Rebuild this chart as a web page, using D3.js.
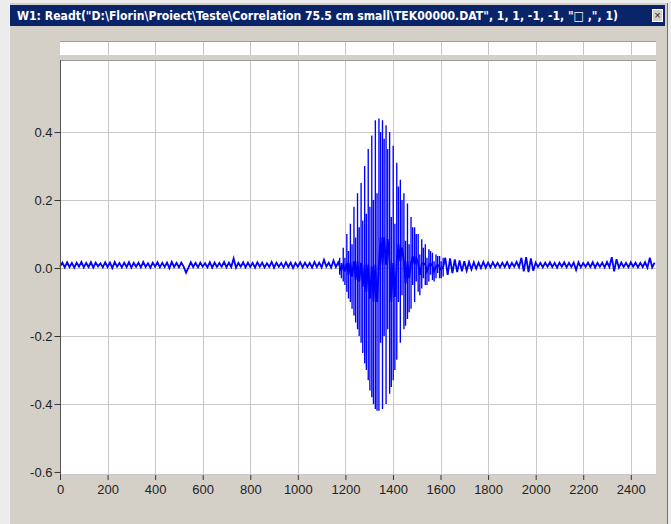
<!DOCTYPE html>
<html>
<head>
<meta charset="utf-8">
<script src="https://cdn.jsdelivr.net/npm/d3@7"></script>
<style>
  body { margin: 0; background: #ececec; }
  svg { display: block; }
  text { font-family: "Liberation Sans", Arial, sans-serif; }
</style>
</head>
<body>
<div id="chart"></div>
<script>
var titleText = "W1: Readt(\"D:\\Florin\\Proiect\\Teste\\Correlation 75.5 cm small\\TEK00000.DAT\", 1, 1, -1, -1, \"\u25A1 ,\", 1)";

var xTickValues = [0, 200, 400, 600, 800, 1000, 1200, 1400, 1600, 1800, 2000, 2200, 2400];
var yTickValues = [-0.6, -0.4, -0.2, 0.0, 0.2, 0.4];

// baseline noise before the burst, one value every 10 samples from sample 0
var preStart = 0, preStep = 10;
var preNoise = [
  0.004,0.016,0.002,0.017,0.003,0.015,0.001,0.016,0.004,0.018,
  0.002,0.015,0.003,0.017,0.001,0.016,0.005,0.014,0.002,0.017,
  0.003,0.016,0.000,0.018,0.004,0.015,0.002,0.016,0.003,0.017,
  0.001,0.015,0.004,0.016,0.002,0.018,0.003,0.014,0.001,0.016,
  0.004,0.017,0.002,0.015,0.003,0.016,0.000,0.018,0.003,0.015,
  0.002,0.016,0.004,-0.014,0.001,0.017,0.003,0.015,0.002,0.016,
  0.004,0.014,0.002,0.017,0.001,0.016,0.003,0.015,0.004,0.018,
  0.002,0.016,0.003,0.028,0.001,0.015,0.004,0.017,0.002,0.016,
  0.003,0.015,0.001,0.017,0.004,0.016,0.002,0.014,0.003,0.018,
  0.001,0.016,0.004,0.015,0.002,0.017,0.003,0.016,0.000,0.015,
  0.004,0.017,0.002,0.016,0.003,0.015,0.001,0.018,0.003,0.016,
  0.002,0.024,0.004,0.016,0.001,0.022,0.003,0.017
];

// baseline noise after the burst, every 10 samples from sample 1620
var postStart = 1620, postStep = 10;
var postNoise = [
  0.030,-0.020,0.028,-0.015,0.025,-0.012,0.022,-0.010,0.020,-0.008,
  0.018,-0.004,0.017,-0.002,0.016,0.000,0.018,0.001,0.016,0.002,
  0.017,0.003,0.015,0.002,0.016,0.003,0.017,0.001,0.015,0.004,
  0.018,0.002,0.030,-0.010,0.032,-0.012,0.028,-0.008,0.016,0.003,
  0.015,0.002,0.016,0.004,0.017,0.003,0.015,0.001,0.016,0.004,
  0.017,0.002,0.015,0.003,0.016,-0.006,0.017,0.002,0.015,0.004,
  0.016,0.003,0.017,0.001,0.015,0.004,0.016,0.002,0.018,0.003,
  0.032,-0.010,0.026,0.001,0.016,0.003,0.015,0.002,0.017,0.004,
  0.016,0.002,0.015,0.003,0.017,0.001,0.030,0.002,0.016
];

// burst: min/max strokes (sample, high, low)
var burstSamples = [
  1176,1183,1191,1198,1206,1213,1221,1228,1236,1243,
  1251,1258,1266,1273,1281,1288,1296,1303,1311,1318,
  1326,1333,1341,1348,1356,1363,1371,1378,1386,1393,
  1401,1408,1416,1423,1431,1438,1446,1453,1461,1468,
  1476,1483,1491,1498,1506,1513,1521,1528,1536,1543,
  1551,1558,1566,1573,1581,1588,1596,1603,1611
];
var burstHigh = [
  0.030,0.015,0.060,0.030,0.100,0.050,0.130,0.070,0.180,0.090,
  0.220,0.120,0.250,0.140,0.300,0.160,0.350,0.180,0.390,0.200,
  0.435,0.220,0.440,0.400,0.435,0.380,0.420,0.350,0.400,0.150,
  0.360,0.130,0.310,0.240,0.260,0.200,0.220,0.080,0.190,0.070,
  0.150,0.120,0.120,0.100,0.100,0.040,0.085,0.060,0.070,0.030,
  0.055,0.050,0.045,0.020,0.040,0.035,0.035,0.020,0.030
];
var burstLow = [
  -0.020,-0.030,-0.040,-0.050,-0.070,-0.090,-0.100,-0.120,-0.140,-0.160,
  -0.180,-0.200,-0.220,-0.250,-0.280,-0.300,-0.330,-0.360,-0.380,-0.400,
  -0.415,-0.420,-0.420,-0.220,-0.415,-0.200,-0.400,-0.180,-0.370,-0.350,
  -0.330,-0.300,-0.270,-0.100,-0.220,-0.080,-0.180,-0.170,-0.150,-0.130,
  -0.120,-0.050,-0.100,-0.040,-0.070,-0.080,-0.060,-0.030,-0.050,-0.050,
  -0.040,-0.020,-0.035,-0.040,-0.030,-0.015,-0.030,-0.030,-0.025
];

var width = 671, height = 524;
var plot = { left: 60, right: 656, top: 60, bottom: 474 };
var strip = { top: 41, bottom: 55 };

var x = d3.scaleLinear().domain([0, 2506]).range([plot.left, plot.right]);
var y = d3.scaleLinear().domain([-0.606, 0.612]).range([plot.bottom, plot.top]);

var svg = d3.select("#chart").append("svg")
    .attr("width", width)
    .attr("height", height);

// window frame
svg.append("rect")
    .attr("x", 9).attr("y", 3)
    .attr("width", 659).attr("height", height - 3)
    .attr("fill", "#d4d0c8");
svg.append("line")
    .attr("x1", 667.5).attr("x2", 667.5).attr("y1", 3).attr("y2", height)
    .attr("stroke", "#6f6f6f");
svg.append("line")
    .attr("x1", 9.5).attr("x2", 9.5).attr("y1", 3).attr("y2", height)
    .attr("stroke", "#f4f4f4");

// title bar
svg.append("rect")
    .attr("x", 10).attr("y", 5)
    .attr("width", 655).attr("height", 21)
    .attr("fill", "#0a246a");
svg.append("text")
    .attr("x", 17).attr("y", 20)
    .attr("fill", "#ffffff")
    .style("font-family", "'DejaVu Sans Condensed', 'Liberation Sans Narrow', sans-serif")
    .style("font-weight", "bold")
    .style("font-size", "12.5px")
    .attr("textLength", 601)
    .attr("lengthAdjust", "spacingAndGlyphs")
    .text(titleText);

// close button
svg.append("rect")
    .attr("x", 652.5).attr("y", 9.5)
    .attr("width", 10).attr("height", 12)
    .attr("fill", "#d4d0c8")
    .attr("stroke", "#ffffff");
svg.append("text")
    .attr("x", 657.5).attr("y", 19)
    .attr("text-anchor", "middle")
    .attr("fill", "#222")
    .style("font-size", "11px")
    .text("\u00D7");

// empty strip above the plot
svg.append("rect")
    .attr("x", plot.left).attr("y", strip.top)
    .attr("width", plot.right - plot.left).attr("height", strip.bottom - strip.top)
    .attr("fill", "#ffffff");
svg.append("g")
    .selectAll("line")
    .data(xTickValues.slice(1))
    .enter().append("line")
    .attr("x1", d => Math.round(x(d)) + 0.5)
    .attr("x2", d => Math.round(x(d)) + 0.5)
    .attr("y1", strip.top).attr("y2", strip.bottom)
    .attr("stroke", "#c4c4c4");
svg.append("line")
    .attr("x1", plot.left).attr("x2", plot.right)
    .attr("y1", strip.top + 0.5).attr("y2", strip.top + 0.5)
    .attr("stroke", "#9c9c9c");

// main plot area
svg.append("rect")
    .attr("x", plot.left).attr("y", plot.top)
    .attr("width", plot.right - plot.left).attr("height", plot.bottom - plot.top)
    .attr("fill", "#ffffff");

var grid = svg.append("g").attr("stroke", "#c8c8c8");
grid.selectAll("line.v")
    .data(xTickValues.slice(1))
    .enter().append("line")
    .attr("class", "v")
    .attr("x1", d => Math.round(x(d)) + 0.5)
    .attr("x2", d => Math.round(x(d)) + 0.5)
    .attr("y1", plot.top).attr("y2", plot.bottom);
grid.selectAll("line.h")
    .data(yTickValues.slice(1))
    .enter().append("line")
    .attr("class", "h")
    .attr("x1", plot.left).attr("x2", plot.right)
    .attr("y1", d => Math.round(y(d)) + 0.5)
    .attr("y2", d => Math.round(y(d)) + 0.5);

svg.append("line")
    .attr("x1", plot.left).attr("x2", plot.right)
    .attr("y1", plot.top + 0.5).attr("y2", plot.top + 0.5)
    .attr("stroke", "#9c9c9c");
svg.append("line")
    .attr("x1", plot.left).attr("x2", plot.right)
    .attr("y1", plot.bottom + 0.5).attr("y2", plot.bottom + 0.5)
    .attr("stroke", "#c8c8c8");

// signal
var line = d3.line()
    .x(d => x(d[0]))
    .y(d => y(d[1]));

var prePts = preNoise.map((v, i) => [preStart + i * preStep, v]);
var postPts = postNoise.map((v, i) => [postStart + i * postStep, v]);
var midPts = burstSamples.map((s, i) => [s, (burstHigh[i] + burstLow[i]) / 2]);

var sig = svg.append("g")
    .attr("fill", "none")
    .attr("stroke", "#0000ff");

sig.append("path")
    .attr("stroke-width", 1.8)
    .attr("d", line(prePts.concat(midPts, postPts)));

sig.append("path")
    .attr("stroke-width", 1.35)
    .attr("d", burstSamples.map((s, i) =>
        "M" + x(s) + "," + y(burstHigh[i]) + "L" + x(s) + "," + y(burstLow[i])).join(""));

// axes
var axisColor = "#333";
var yAxis = d3.axisLeft(y)
    .tickValues(yTickValues)
    .tickSize(6)
    .tickFormat(d => d.toFixed(1));
var gy = svg.append("g")
    .attr("transform", "translate(" + (plot.left + 0.5) + ",0)")
    .call(yAxis);
gy.select(".domain").attr("stroke", "#555").attr("d", "M0," + plot.top + "V" + (plot.bottom + 1));

var xAxis = d3.axisBottom(x)
    .tickValues(xTickValues)
    .tickSize(5)
    .tickFormat(d => d);
var gx = svg.append("g")
    .attr("transform", "translate(0," + (plot.bottom + 1) + ")")
    .call(xAxis);
gx.select(".domain").remove();

svg.selectAll(".tick line").attr("stroke", axisColor);
svg.selectAll(".tick text")
    .attr("fill", "#222")
    .style("font-size", "13px")
    .style("font-family", "'Liberation Sans', Arial, sans-serif");
gy.selectAll(".tick text").attr("x", -8);
gx.selectAll(".tick text").attr("y", 10);
</script>
</body>
</html>
